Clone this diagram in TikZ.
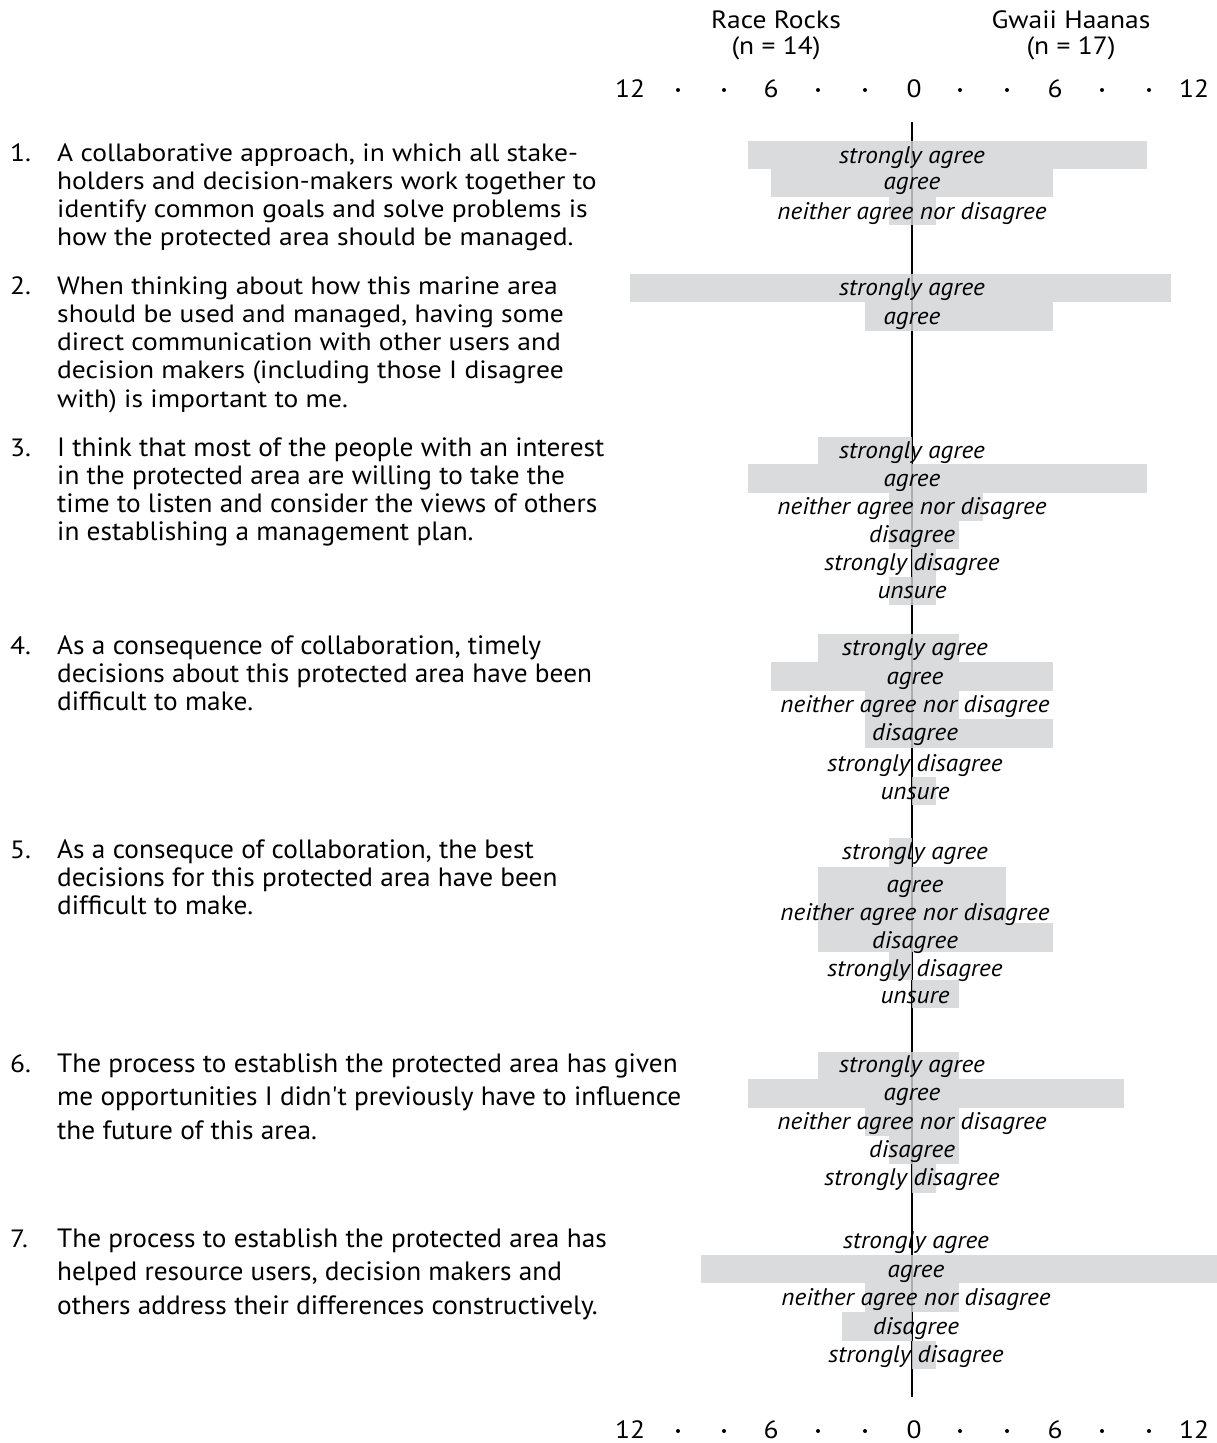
\documentclass[tikz,border=0pt]{standalone}
\usepackage{fontspec}
\setmainfont{PT Sans}[FakeStretch=1.1]
\newfontfamily\narrowfont{PT Sans}[FakeStretch=1.03]
\newfontfamily\labelfont{PT Sans}[FakeStretch=1.05]
\definecolor{barfill}{RGB}{211,212,214}
\begin{document}
\begin{tikzpicture}[x=1pt,y=-1pt,
  axisline/.style={line width=2pt,black},
  respbar/.style={fill=barfill,fill opacity=0.82,draw=none},
  resp/.style={font=\labelfont\fontsize{24}{26}\selectfont\itshape,anchor=base,inner sep=0pt},
  itemtext/.style={font=\fontsize{25}{28}\selectfont,anchor=base west,inner sep=0pt},
  itemnarrow/.style={font=\narrowfont\fontsize{26.5}{28}\selectfont,anchor=base west,inner sep=0pt},
  itemnum/.style={font=\fontsize{25}{28}\selectfont,anchor=base west,inner sep=0pt},
  head/.style={font=\fontsize{25}{28}\selectfont,anchor=base,inner sep=0pt},
  tick/.style={font=\fontsize{25}{28}\selectfont,anchor=base,inner sep=0pt},
  tickdot/.style={circle,fill=black,inner sep=0pt,minimum size=4pt}
]
\useasboundingbox (0,0) rectangle (1217,1443);
\fill[white] (0,0) rectangle (1217,1443);

% scale: zero at x=912, one respondent = 23.5 units
\newcommand\respbox[4]{\fill[respbar] ({912-#1*23.5},#3) rectangle ({912+#2*23.5},#4);}

% column headings
\node[head] (rr) at (776,28) {Race Rocks};
\node[head] (rrn) at (776,54) {(n = 14)};
\node[head] (gh) at (1071,28) {Gwaii Haanas};
\node[head] (ghn) at (1071,54) {(n = 17)};

% count scales, top and bottom
\foreach \yy/\nm in {97/top,1438/bot}{
  \node[tick] (\nm L12) at (630,\yy) {12};
  \node[tick] (\nm L6) at (771,\yy) {6};
  \node[tick] (\nm Z) at (914,\yy) {0};
  \node[tick] (\nm R6) at (1055,\yy) {6};
  \node[tick] (\nm R12) at (1194,\yy) {12};
  \foreach \xx [count=\k] in {678,724,818,865,960,1007,1102,1149}
    \node[tickdot] (\nm dot\k) at (\xx,\yy-7) {};
}

% zero axis
\coordinate (axtop) at (912,122);
\coordinate (axbot) at (912,1397);
\draw[axisline] (axtop) -- (axbot);

% response bars: {left}{right}{top}{bottom}
% item 1
\respbox{7}{10}{141}{169}
\respbox{6}{6}{169}{197}
\respbox{1}{1}{197}{225}
% item 2
\respbox{12}{11}{274}{302}
\respbox{2}{6}{302}{331}
% item 3
\respbox{4}{0}{437}{464}
\respbox{7}{10}{464}{493}
\respbox{1}{3}{493}{521}
\respbox{1}{2}{521}{549}
\respbox{0}{1}{549}{577}
\respbox{1}{1}{577}{605}
% item 4
\respbox{4}{2}{634}{662}
\respbox{6}{6}{662}{691}
\respbox{2}{2}{691}{719}
\respbox{2}{6}{719}{748}
\respbox{0}{1}{777}{805}
% item 5
\respbox{1}{0}{838}{867}
\respbox{4}{4}{867}{923}
\respbox{4}{6}{923}{952}
\respbox{1}{0}{952}{980}
\respbox{0}{2}{980}{1008}
% item 6
\respbox{4}{2}{1052}{1079}
\respbox{7}{9}{1079}{1108}
\respbox{2}{2}{1108}{1136}
\respbox{1}{2}{1136}{1164}
\respbox{0}{1}{1164}{1193}
% item 7
\respbox{9}{13}{1255}{1283}
\respbox{2}{2}{1283}{1312}
\respbox{3}{0}{1312}{1341}
\respbox{0}{1}{1341}{1369}

% response labels
\foreach \q/\xx/\lst in {
  1/912/{163/strongly agree,189/agree,219/neither agree nor disagree},
  2/912/{295/strongly agree,324/agree},
  3/912/{458/strongly agree,486/agree,514/neither agree nor disagree,542/disagree,570/strongly disagree,598/unsure},
  4/915/{655/strongly agree,684/agree,712/neither agree nor disagree,740/disagree,771/strongly disagree,799/unsure},
  5/915/{859/strongly agree,892/agree,920/neither agree nor disagree,948/disagree,976/strongly disagree,1003/unsure},
  6/912/{1072/strongly agree,1100/agree,1129/neither agree nor disagree,1157/disagree,1185/strongly disagree},
  7/916/{1248/strongly agree,1277/agree,1305/neither agree nor disagree,1334/disagree,1362/strongly disagree}}{
  \foreach \yy/\txt [count=\i] in \lst
    \node[resp] (q\q r\i) at (\xx,\yy) {\txt};
}

% statements
\foreach \q/\yy/\dy/\sty/\lines in {
  1/161/28.3/itemtext/{{A collaborative approach, in which all stake-},{holders and decision-makers work together to},{identify common goals and solve problems is},{how the protected area should be managed.}},
  2/294/28.3/itemtext/{{When thinking about how this marine area},{should be used and managed, having some},{direct communication with other users and},{decision makers (including those I disagree},{with) is important to me.}},
  3/456/28.3/itemnarrow/{{I think that most of the people with an interest},{in the protected area are willing to take the},{time to listen and consider the views of others},{in establishing a management plan.}},
  4/654/28.3/itemnarrow/{{As a consequence of collaboration, timely},{decisions about this protected area have been},{difficult to make.}},
  5/858/28.3/itemnarrow/{{As a consequce of collaboration, the best},{decisions for this protected area have been},{difficult to make.}},
  6/1072/33.6/itemnarrow/{{The process to establish the protected area has given},{me opportunities I didn't previously have to influence},{the future of this area.}},
  7/1247/33.6/itemnarrow/{{The process to establish the protected area has},{helped resource users, decision makers and},{others address their differences constructively.}}}{
  \node[itemnum] (n\q) at (10,\yy) {\q.};
  \foreach \ln [count=\i] in \lines
    \node[\sty] (s\q l\i) at (57,{\yy+(\i-1)*\dy}) {\ln};
}
\end{tikzpicture}
\end{document}
